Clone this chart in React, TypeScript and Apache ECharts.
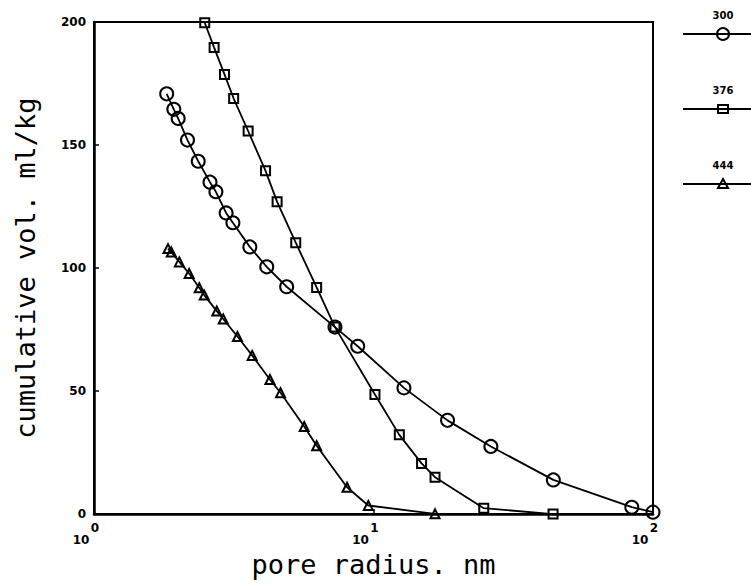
import React, { useEffect, useRef } from "react";
import * as echarts from "echarts";

const seriesNames = ["300", "376", "444"];

const radius300 = [1.82, 1.93, 2.0, 2.16, 2.36, 2.6, 2.73, 2.97, 3.14, 3.61, 4.15, 4.89, 7.28, 8.78, 12.85, 18.4, 26.3, 44.0, 84.0, 100];
const vol300 = [170.8, 164.5, 160.8, 152.0, 143.4, 134.9, 131.0, 122.4, 118.4, 108.6, 100.5, 92.4, 76.0, 68.2, 51.3, 38.1, 27.5, 13.9, 2.8, 0.8];

const radius376 = [2.49, 2.69, 2.93, 3.16, 3.56, 4.11, 4.52, 5.27, 6.26, 7.28, 10.12, 12.37, 14.86, 16.6, 24.8, 43.9];
const vol376 = [199.7, 189.6, 178.7, 168.9, 155.7, 139.5, 126.9, 110.3, 92.1, 76.0, 48.6, 32.2, 20.6, 15.0, 2.4, 0];

const radius444 = [1.84, 1.89, 2.02, 2.19, 2.38, 2.48, 2.75, 2.9, 3.26, 3.68, 4.26, 4.65, 5.65, 6.26, 8.04, 9.58, 16.6];
const vol444 = [107.9, 106.5, 102.5, 97.8, 92.0, 89.0, 82.5, 79.3, 72.2, 64.5, 54.7, 49.3, 35.6, 27.8, 10.9, 3.5, 0.1];

const yTicks = [0, 50, 100, 150, 200];

const pairs = (xs: number[], ys: number[]) => xs.map((x, i) => [x, ys[i]]);

export default function App() {
  const ref = useRef<HTMLDivElement>(null);
  useEffect(() => {
    if (!ref.current) return;
    const chart = echarts.init(ref.current, null, { renderer: "svg" });
    const black = "#000";
    const symbols = ["circle", "rect", "triangle"];
    const sizes = [13, 9, 9];
    const datasets = [pairs(radius300, vol300), pairs(radius376, vol376), pairs(radius444, vol444)];

    const legendGraphics: any[] = [];
    seriesNames.forEach((name, i) => {
      const y = 34 + 75 * i;
      legendGraphics.push({
        type: "text",
        x: 723,
        y: y - 14,
        style: { text: name, fontSize: 10, fontWeight: "bold", fontFamily: "DejaVu Sans", fill: black, align: "center", verticalAlign: "bottom" },
      });
      legendGraphics.push({ type: "line", shape: { x1: 683, y1: y, x2: 751, y2: y }, style: { stroke: black, lineWidth: 2 } });
      if (i === 0) {
        legendGraphics.push({ type: "circle", shape: { cx: 723, cy: y, r: 6 }, style: { fill: "none", stroke: black, lineWidth: 2 } });
      } else if (i === 1) {
        legendGraphics.push({ type: "rect", shape: { x: 718, y: y - 4, width: 10, height: 8 }, style: { fill: "none", stroke: black, lineWidth: 2 } });
      } else {
        legendGraphics.push({ type: "polygon", shape: { points: [[723, y - 5], [728, y + 4], [718, y + 4]] }, style: { fill: "none", stroke: black, lineWidth: 2 } });
      }
    });

    chart.setOption({
      animation: false,
      backgroundColor: "#fff",
      grid: { left: 94, right: 98, top: 22, bottom: 67, show: true, borderColor: black, borderWidth: 2, backgroundColor: "transparent" },
      xAxis: {
        type: "log",
        logBase: 10,
        min: 1,
        max: 100,
        name: "pore radius. nm",
        nameLocation: "middle",
        nameGap: 34,
        nameTextStyle: { fontFamily: "DejaVu Sans Mono", fontSize: 27, color: black },
        axisLine: { lineStyle: { color: black, width: 2.5 } },
        axisTick: { inside: true, length: 5, lineStyle: { color: black, width: 1.5 } },
        splitLine: { show: false },
        axisLabel: {
          margin: 8,
          formatter: (v: number) => `{e|${Math.round(Math.log10(v))}}\n{b|10}`,
          rich: {
            e: { fontSize: 12, fontWeight: "bold", fontFamily: "DejaVu Sans", color: black, lineHeight: 12, padding: [0, 0, 0, 2] },
            b: { fontSize: 12, fontWeight: "bold", fontFamily: "DejaVu Sans", color: black, lineHeight: 12, padding: [0, 26, 0, 0] },
          },
        },
      },
      yAxis: {
        type: "value",
        min: yTicks[0],
        max: yTicks[yTicks.length - 1],
        interval: 50,
        name: "cumulative vol. ml/kg",
        nameLocation: "middle",
        nameGap: 55,
        nameTextStyle: { fontFamily: "DejaVu Sans Mono", fontSize: 27, color: black },
        axisLine: { lineStyle: { color: black, width: 2.5 } },
        axisTick: { inside: true, length: 5, lineStyle: { color: black, width: 1.5 } },
        splitLine: { show: false },
        axisLabel: { margin: 8, fontSize: 12, fontWeight: "bold", fontFamily: "DejaVu Sans", color: black },
      },
      graphic: legendGraphics,
      series: seriesNames.map((name, i) => ({
        name,
        type: "line",
        data: datasets[i],
        symbol: symbols[i],
        symbolSize: sizes[i],
        showSymbol: true,
        clip: false,
        lineStyle: { color: black, width: 1.8 },
        itemStyle: { color: "rgba(0,0,0,0)", borderColor: black, borderWidth: 2 },
      })),
    });
    return () => chart.dispose();
  }, []);
  return <div ref={ref} style={{ width: 751, height: 583, position: "absolute", left: 0, top: 0 }} />;
}
